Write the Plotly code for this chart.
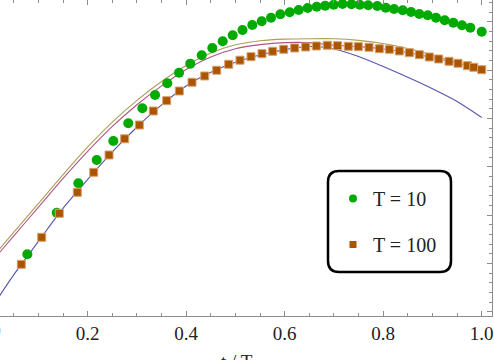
import plotly.graph_objects as go

# smooth curves sampled on t / T
t_line = [0.0, 0.05, 0.1, 0.15, 0.2, 0.25, 0.3, 0.35, 0.4, 0.45, 0.5,
          0.55, 0.6, 0.65, 0.7, 0.75, 0.8, 0.85, 0.9, 0.95, 1.0]
blue_line = [0.0, 0.0768, 0.1456, 0.2143, 0.2739, 0.3309, 0.3824, 0.4282, 0.4673, 0.4955, 0.5165,
             0.5315, 0.5425, 0.549, 0.5439, 0.5284, 0.5077, 0.4853, 0.4615, 0.4352, 0.4021]
purple_line = [0.0975, 0.157, 0.2165, 0.276, 0.332, 0.3835, 0.4285, 0.4675, 0.5015, 0.5275, 0.5445,
               0.553, 0.557, 0.557, 0.5515, 0.5487, 0.544, 0.5367, 0.526, 0.5147, 0.501]
tan_line = [0.1052, 0.1647, 0.2242, 0.2837, 0.341, 0.3925, 0.4375, 0.4765, 0.5095, 0.5355, 0.5525,
            0.561, 0.5643, 0.5651, 0.565, 0.5617, 0.5553, 0.545, 0.5315, 0.5157, 0.501]

# T = 10 points
t_10 = [0.0774, 0.1371, 0.1809, 0.2183, 0.252, 0.2824, 0.3109, 0.3367, 0.3616, 0.3854,
        0.4083, 0.4315, 0.453, 0.4741, 0.4944, 0.5143, 0.5342, 0.5533, 0.5722, 0.5911,
        0.6102, 0.6284, 0.6467, 0.665, 0.6822, 0.6995, 0.7174, 0.7356, 0.7523, 0.7695,
        0.788, 0.8051, 0.8219, 0.8396, 0.8565, 0.8733, 0.8904, 0.9072, 0.9249, 0.9423,
        0.96, 0.9769, 1.0]
y_10 = [0.1188, 0.205, 0.2658, 0.3141, 0.3534, 0.3901, 0.4211, 0.4487, 0.4729, 0.4948,
        0.5135, 0.5309, 0.546, 0.5598, 0.5723, 0.5832, 0.5936, 0.6012, 0.6087, 0.6157,
        0.6199, 0.6246, 0.6288, 0.6315, 0.6335, 0.6354, 0.6371, 0.6364, 0.6354, 0.6344,
        0.6329, 0.6294, 0.6267, 0.624, 0.6205, 0.6164, 0.6137, 0.6087, 0.6033, 0.5983,
        0.593, 0.588, 0.5797]

# T = 100 points
t_100 = [0.0652, 0.1066, 0.1423, 0.1789, 0.2122, 0.2433, 0.2751, 0.3048, 0.3332, 0.3604,
         0.386, 0.4118, 0.4376, 0.4619, 0.4863, 0.5092, 0.5316, 0.5539, 0.5756, 0.598,
         0.6203, 0.6426, 0.6642, 0.6865, 0.7072, 0.7291, 0.7494, 0.7712, 0.7921, 0.8124,
         0.8327, 0.853, 0.8733, 0.8936, 0.9127, 0.9336, 0.9519, 0.9708, 0.9838, 1.0]
y_100 = [0.0981, 0.154, 0.2037, 0.2472, 0.2886, 0.3244, 0.358, 0.3865, 0.4155, 0.4369,
         0.4569, 0.475, 0.488, 0.4998, 0.5122, 0.5207, 0.528, 0.5342, 0.5391, 0.5433,
         0.546, 0.548, 0.5501, 0.5516, 0.5507, 0.5495, 0.5487, 0.5474, 0.5445, 0.5433,
         0.5398, 0.5362, 0.5321, 0.5273, 0.5232, 0.5184, 0.5143, 0.5093, 0.506, 0.501]

x_ticks = [0.2, 0.4, 0.6, 0.8, 1.0]
x_labels = ["0.2", "0.4", "0.6", "0.8", "1.0"]

green = "#00aa00"
brown = "#aa5500"
frame = "#8c8c8c"
serif = "Liberation Serif, Times New Roman, serif"

fig = go.Figure()

for ys, col in [(blue_line, "rgb(85,85,175)"), (purple_line, "rgb(172,85,135)"), (tan_line, "rgb(172,158,85)")]:
    fig.add_trace(go.Scatter(x=t_line, y=ys, mode="lines", line=dict(color=col, width=1.1, shape="spline", smoothing=0.8),
                             showlegend=False, hoverinfo="skip"))

fig.add_trace(go.Scatter(x=t_10, y=y_10, mode="markers", marker=dict(symbol="circle", size=10, color=green),
                         showlegend=False, cliponaxis=False))
fig.add_trace(go.Scatter(x=t_100, y=y_100, mode="markers",
                         marker=dict(symbol="square", size=8, color=brown, line=dict(color="#d9a070", width=1)),
                         showlegend=False, cliponaxis=False))

# legend entries with smaller symbols
fig.add_trace(go.Scatter(x=[None], y=[None], mode="markers", name="T = 10", legendgroup="a",
                         marker=dict(symbol="circle", size=8, color=green)))
fig.add_trace(go.Scatter(x=[None], y=[None], mode="markers", name="T = 100", legendgroup="b",
                         marker=dict(symbol="square", size=7, color=brown)))

# rounded legend box
W, H = 492.0, 316.0
x0, x1, y0, y1, r = 328, 451, 171, 272, 11
def px(x):
    return x / W
def py(y):
    return (H - y) / H
box = (f"M {px(x0 + r)},{py(y0)} L {px(x1 - r)},{py(y0)} Q {px(x1)},{py(y0)} {px(x1)},{py(y0 + r)} "
       f"L {px(x1)},{py(y1 - r)} Q {px(x1)},{py(y1)} {px(x1 - r)},{py(y1)} "
       f"L {px(x0 + r)},{py(y1)} Q {px(x0)},{py(y1)} {px(x0)},{py(y1 - r)} "
       f"L {px(x0)},{py(y0 + r)} Q {px(x0)},{py(y0)} {px(x0 + r)},{py(y0)} Z")
fig.add_shape(type="path", path=box, xref="paper", yref="paper", line=dict(color="black", width=2.5))

fig.add_annotation(text="0.0", x=-10.8 / W, y=py(330), xref="paper", yref="paper", showarrow=False,
                   font=dict(family=serif, size=19, color="#222"), xanchor="center", yanchor="middle")
fig.add_annotation(text="t / T", x=237 / W, y=py(349), xref="paper", yref="paper", showarrow=False,
                   font=dict(family=serif, size=19, color="#222"), xanchor="center", yanchor="top")

fig.update_layout(
    width=494, height=360,
    margin=dict(l=0, r=2, t=0, b=44, autoexpand=False),
    paper_bgcolor="white", plot_bgcolor="white",
    font=dict(family=serif, size=19, color="#222"),
    legend=dict(x=px(333), y=py(179), xanchor="left", yanchor="top", bgcolor="rgba(0,0,0,0)",
                traceorder="grouped", tracegroupgap=17, font=dict(family=serif, size=20, color="#222")),
    xaxis=dict(range=[0.0219, 1.0209], tickvals=x_ticks, ticktext=x_labels, ticks="inside", ticklen=5,
               tickcolor=frame, showline=True, linecolor=frame, linewidth=1, mirror="allticks",
               showgrid=False, zeroline=False,
               minor=dict(dtick=0.05, tick0=0, ticks="inside", ticklen=3, tickcolor=frame)),
    yaxis=dict(range=[-0.0089, 0.6453], side="right", dtick=0.1, tick0=0, ticks="inside", ticklen=5,
               tickcolor=frame, showline=True, linecolor=frame, linewidth=1, showticklabels=False,
               showgrid=False, zeroline=False,
               minor=dict(dtick=0.02, tick0=0, ticks="inside", ticklen=3, tickcolor=frame)),
)

fig.write_html("out.html", config={"displayModeBar": False}, post_script="document.body.style.margin='0';")
